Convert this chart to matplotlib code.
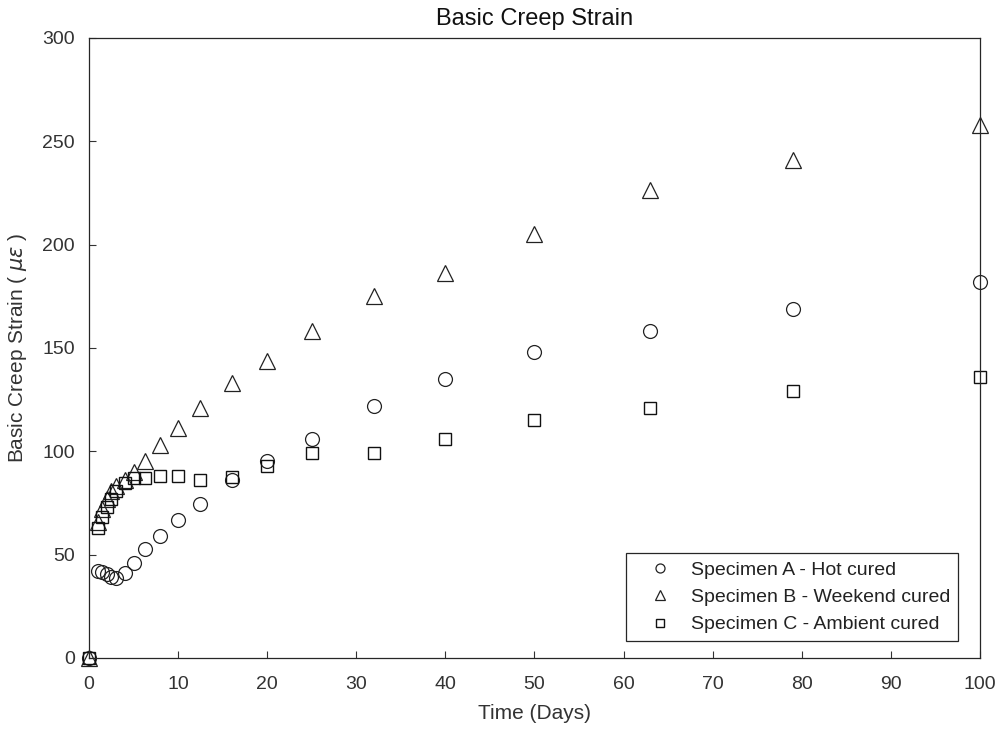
import numpy as np
import matplotlib.pyplot as plt

plt.rcParams['font.family'] = ['Liberation Sans', 'DejaVu Sans']
plt.rcParams['mathtext.fontset'] = 'dejavusans'

# Days since loading
days = [0, 1, 1.5, 2, 2.5, 3, 4, 5, 6.3, 8, 10, 12.5, 16, 20, 25, 32, 40, 50, 63, 79, 100]

# Basic creep strain (micro-strain)
spec_a = [0, 42, 41.5, 40.5, 39, 38.5, 41, 46, 52.5, 59, 67, 74.5, 86, 95.5, 106, 122, 135, 148, 158, 169, 182]
spec_b = [0, 66, 72, 77, 81, 83, 86, 90, 95.5, 103, 111.5, 121, 133, 143.5, 158, 175, 186.5, 205, 226.5, 241, 258]
spec_c = [0, 63, 68, 73, 77, 81, 84.5, 87, 87, 88, 88, 86, 87.5, 93, 99, 99, 106, 115, 121, 129, 136]

labels = ['Specimen A - Hot cured', 'Specimen B - Weekend cured', 'Specimen C - Ambient cured']

fig = plt.figure(figsize=(10.03, 7.35), dpi=100)
ax = fig.add_axes([0.0887, 0.1048, 0.8883, 0.8435])

ax.plot(days, spec_a, linestyle='none', marker='o', ms=10, mfc='none', mec='#222222', mew=0.9,
        label=labels[0], clip_on=False)
ax.plot(days, spec_b, linestyle='none', marker='^', ms=11, mfc='none', mec='#222222', mew=0.9,
        label=labels[1], clip_on=False)
ax.plot(days, spec_c, linestyle='none', marker='s', ms=8, mfc='none', mec='#111111', mew=1.0,
        label=labels[2], clip_on=False)

ax.set_xlim(0, 100)
ax.set_ylim(0, 300)
ax.set_xticks(np.arange(0, 101, 10))
ax.set_yticks(np.arange(0, 301, 50))
ax.tick_params(direction='in', length=5, width=0.8, labelsize=14, colors='#333333')
ax.tick_params(axis='x', pad=13)
ax.tick_params(axis='y', pad=10)
for s in ax.spines.values():
    s.set_color('#262626')
    s.set_linewidth(0.9)

ax.set_title('Basic Creep Strain', fontsize=17, color='#111111', pad=9)
ax.set_xlabel('Time (Days)', fontsize=15, color='#333333', labelpad=8)
ax.set_ylabel(r'Basic Creep Strain ( $\mu\epsilon$ )', fontsize=15, color='#333333', labelpad=10)

leg = ax.legend(loc='lower right', bbox_to_anchor=(0.975, 0.027), fontsize=14, markerscale=0.65,
                fancybox=False, edgecolor='#262626', framealpha=1, handlelength=2.7,
                handletextpad=0.2, borderpad=0.4, labelspacing=0.5, borderaxespad=0)
leg.get_frame().set_linewidth(0.9)
for t in leg.get_texts():
    t.set_color('#222222')

fig.savefig('out.png', dpi=100)
